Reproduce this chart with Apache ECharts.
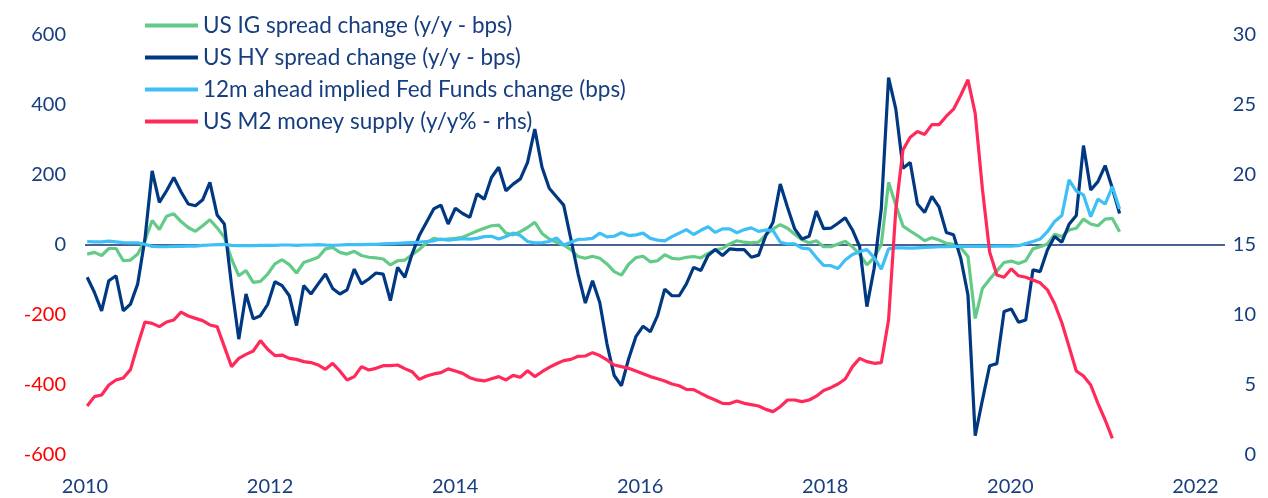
<!DOCTYPE html>
<html>
<head>
<meta charset="utf-8">
<title>US credit spreads, Fed Funds and M2</title>
<script src="https://cdn.jsdelivr.net/npm/echarts@6/dist/echarts.min.js"></script>
<style>
  html, body { margin: 0; padding: 0; background: #fff; }
  #chart { width: 1268px; height: 498px; }
</style>
</head>
<body>
<div id="chart"></div>
<script>
// monthly readings, first month sits just right of the "2010" label
const seriesNames = [
  'US IG spread change (y/y - bps)',
  'US HY spread change (y/y - bps)',
  '12m ahead implied Fed Funds change (bps)',
  'US M2 money supply (y/y% - rhs)'
];

const igChange = [
  -26, -21, -30, -10, -10, -45, -43, -26, 12, 70, 44, 82,
  89, 67, 50, 39, 55, 72, 49, 22, -40, -88, -73, -107,
  -104, -83, -54, -42, -56, -80, -50, -43, -35, -11, -7, -21,
  -26, -18, -30, -35, -37, -40, -57, -45, -43, -28, -13, 6,
  19, 15, 17, 19, 22, 31, 40, 48, 55, 57, 34, 29,
  38, 50, 65, 33, 17, 8, 0, -13, -33, -38, -32, -38,
  -54, -76, -86, -55, -36, -32, -48, -45, -28, -38, -40, -35,
  -33, -37, -24, -14, -10, 3, 12, 8, 6, 8, 29, 46,
  58, 48, 31, 15, 6, 12, -5, -5, 3, 11, -5, -27,
  -57, -36, 2, 179, 114, 54, 40, 27, 12, 21, 14, 5,
  2, -8, -33, -210, -124, -98, -74, -50, -46, -53, -45, -11,
  -5, 3, 31, 24, 43, 48, 74, 60, 55, 74, 76, 38
];

const hyChange = [
  -92, -135, -188, -102, -88, -188, -169, -111, 17, 212, 122, 155,
  193, 152, 117, 112, 129, 179, 86, 60, -116, -269, -140, -211,
  -202, -170, -105, -116, -145, -230, -116, -140, -111, -83, -124, -140,
  -128, -69, -111, -97, -80, -83, -159, -64, -92, -26, 27, 65,
  103, 114, 60, 105, 90, 79, 146, 131, 193, 222, 155, 174,
  189, 236, 331, 222, 162, 138, 114, 17, -83, -166, -102, -164,
  -283, -373, -402, -325, -262, -232, -248, -202, -126, -145, -145, -111,
  -64, -73, -30, -13, -30, -11, -13, -13, -35, -29, 27, 65,
  174, 108, 46, 17, 25, 97, 47, 48, 62, 78, 43, -5,
  -176, -67, 105, 478, 389, 219, 236, 117, 93, 139, 108, 36,
  29, -38, -143, -545, -443, -345, -339, -190, -183, -221, -214, -71,
  -76, -14, 24, 8, 59, 84, 284, 157, 181, 227, 162, 90
];

const fedFundsChange = [
  10, 9, 9, 11, 9, 7, 6, 6, 2, -4, -5, -5,
  -4, -4, -3, -3, -1, 0, 1, 2, -1, -2, -2, -2,
  -1, -1, -1, 0, 0, -1, 0, 0, 1, 0, -1, 0,
  1, 1, 1, 2, 2, 3, 4, 5, 6, 7, 8, 10,
  12, 17, 14, 16, 18, 17, 19, 24, 25, 17, 24, 34,
  27, 10, 6, 7, 10, 20, 0, 8, 16, 17, 19, 34,
  23, 25, 35, 27, 29, 34, 19, 14, 12, 24, 34, 44,
  30, 42, 52, 36, 46, 46, 35, 44, 49, 39, 43, 41,
  8, 3, 3, -9, -11, -36, -58, -59, -67, -43, -27, -19,
  -13, -36, -69, -11, -8, -8, -9, -8, -7, -6, -5, -5,
  -4, -4, -4, -4, -4, -4, -3, -3, -3, -2, 4, 10,
  17, 38, 67, 84, 186, 154, 143, 81, 131, 117, 167, 103
];

const m2Growth = [
  3.5, 4.17, 4.29, 5.0, 5.36, 5.5, 6.1, 7.86, 9.5, 9.4, 9.17, 9.5,
  9.64, 10.2, 9.93, 9.76, 9.6, 9.29, 9.17, 7.74, 6.31, 6.9, 7.19, 7.43,
  8.17, 7.55, 7.1, 7.14, 6.9, 6.83, 6.67, 6.6, 6.43, 6.12, 6.55, 6.0,
  5.36, 5.6, 6.31, 6.07, 6.19, 6.38, 6.38, 6.43, 6.17, 5.95, 5.4, 5.64,
  5.79, 5.88, 6.15, 6.0, 5.83, 5.52, 5.36, 5.29, 5.45, 5.6, 5.36, 5.69,
  5.55, 6.02, 5.6, 5.95, 6.26, 6.52, 6.74, 6.83, 7.05, 7.07, 7.31, 7.1,
  6.79, 6.43, 6.31, 6.19, 6.0, 5.8, 5.6, 5.45, 5.29, 5.07, 4.95, 4.69,
  4.67, 4.4, 4.14, 3.93, 3.69, 3.67, 3.86, 3.69, 3.6, 3.5, 3.26, 3.1,
  3.45, 3.93, 3.93, 3.81, 3.93, 4.2, 4.6, 4.81, 5.07, 5.43, 6.31, 6.9,
  6.67, 6.55, 6.6, 9.64, 17.5, 21.8, 22.7, 23.1, 22.9, 23.6, 23.6, 24.2,
  24.7, 25.7, 26.8, 24.4, 19.0, 14.5, 12.86, 12.7, 13.3, 12.8, 12.7, 12.5,
  12.3, 11.8, 10.8, 9.45, 7.74, 6.0, 5.64, 5.0, 3.69, 2.5, 1.19
];

const yearTicks = [2010, 2012, 2014, 2016, 2018, 2020, 2022];
const leftTicks = [-600, -400, -200, 0, 200, 400, 600];
const rightTicks = [0, 5, 10, 15, 20, 25, 30];

const navyText = '#173E7F';
const redText = '#FF0000';
const colors = ['#63CB87', '#003882', '#3EC0F7', '#FF2A5A'];

// the plotted months run on their own (hidden) axis, the year labels on another
const monthMin = -0.3;
const monthMax = 157.6;
const yearMax = 2022.32;

const toPoints = arr => arr.map((v, i) => [i, v]);

const chart = echarts.init(document.getElementById('chart'));

const option = {
  animation: false,
  color: colors,
  textStyle: { fontFamily: 'Lato' },
  grid: { left: 85, right: 43, top: 35, bottom: 43 },
  legend: {
    orient: 'vertical',
    left: 140,
    top: 9,
    icon: 'rect',
    itemWidth: 53,
    itemHeight: 4,
    itemGap: 9,
    textStyle: { color: navyText, fontSize: 22.5, lineHeight: 23, fontFamily: 'Lato' },
    data: seriesNames
  },
  xAxis: [
    {
      type: 'value',
      min: yearTicks[0],
      max: yearMax,
      interval: 2,
      axisLine: { show: false },
      axisTick: { show: false },
      splitLine: { show: false },
      axisLabel: {
        color: navyText,
        fontSize: 20,
        margin: 22,
        formatter: v => (yearTicks.includes(Math.round(v)) && Math.abs(v - Math.round(v)) < 1e-6 ? String(Math.round(v)) : '')
      }
    },
    {
      type: 'value',
      min: monthMin,
      max: monthMax,
      show: false
    }
  ],
  yAxis: [
    {
      type: 'value',
      position: 'left',
      min: leftTicks[0],
      max: leftTicks[leftTicks.length - 1],
      interval: 200,
      axisLine: { show: false },
      axisTick: { show: false },
      splitLine: { show: false },
      axisLabel: {
        fontSize: 20,
        margin: 19,
        color: v => (Number(v) < 0 ? redText : navyText)
      }
    },
    {
      type: 'value',
      position: 'right',
      min: rightTicks[0],
      max: rightTicks[rightTicks.length - 1],
      interval: 5,
      axisLine: { show: false },
      axisTick: { show: false },
      splitLine: { show: false },
      axisLabel: { fontSize: 20, margin: 31, align: 'right', color: navyText }
    }
  ],
  series: [
    {
      name: seriesNames[0],
      type: 'line',
      xAxisIndex: 1,
      yAxisIndex: 0,
      symbol: 'none',
      lineStyle: { width: 3.2 },
      data: toPoints(igChange),
      markLine: {
        silent: true,
        z: 1,
        symbol: ['none', 'none'],
        label: { show: false },
        lineStyle: { color: '#0B2E6F', width: 1.5, type: 'solid' },
        data: [{ yAxis: 0 }]
      }
    },
    {
      name: seriesNames[1],
      type: 'line',
      xAxisIndex: 1,
      yAxisIndex: 0,
      symbol: 'none',
      lineStyle: { width: 3.2 },
      data: toPoints(hyChange)
    },
    {
      name: seriesNames[2],
      type: 'line',
      xAxisIndex: 1,
      yAxisIndex: 0,
      symbol: 'none',
      lineStyle: { width: 3.2 },
      data: toPoints(fedFundsChange)
    },
    {
      name: seriesNames[3],
      type: 'line',
      xAxisIndex: 1,
      yAxisIndex: 1,
      symbol: 'none',
      lineStyle: { width: 3.2 },
      data: toPoints(m2Growth)
    }
  ]
};

chart.setOption(option);
</script>
</body>
</html>
